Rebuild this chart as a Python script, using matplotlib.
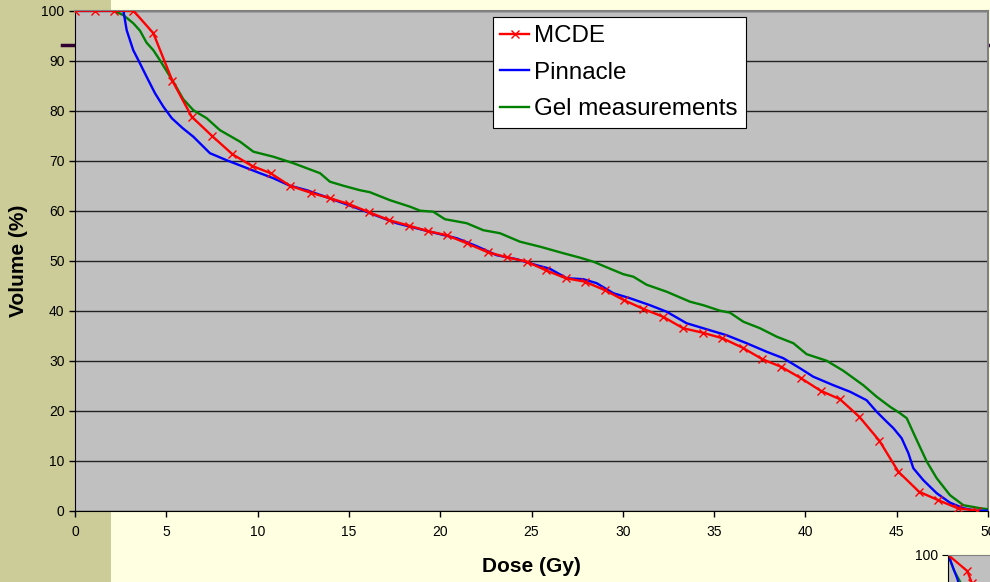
import matplotlib.pyplot as plt
from matplotlib.patches import Rectangle
from matplotlib.lines import Line2D

plt.rcParams['font.family'] = ['Liberation Sans', 'DejaVu Sans']

# MCDE (red, with markers)
red_x = [0, 1.07, 2.13, 3.2, 4.29, 5.33, 6.39, 7.52, 8.62, 9.67, 10.71, 11.77, 12.9, 13.96,
         15.02, 16.1, 17.21, 18.29, 19.35, 20.35, 21.45, 22.6, 23.64, 24.74, 25.78, 26.87,
         27.93, 29.02, 30.07, 31.1, 32.2, 33.3, 34.37, 35.45, 36.56, 37.64, 38.66, 39.76,
         40.83, 41.89, 42.95, 44.05, 45.09, 46.22, 47.28, 48.34, 49.41]
red_y = [100, 100, 100, 100, 95.5, 86, 78.8, 74.9, 71.3, 69.0, 67.5, 65.0, 63.6, 62.5,
         61.3, 59.7, 58.1, 57.0, 55.9, 55.1, 53.5, 51.7, 50.7, 49.8, 48.1, 46.5,
         45.8, 44.1, 42.1, 40.4, 38.8, 36.5, 35.6, 34.5, 32.6, 30.3, 28.8, 26.5,
         24.0, 22.3, 18.8, 14.0, 7.8, 3.8, 2.1, 0.5, 0]

# Pinnacle (blue)
blue_x = [0, 2.0, 2.65, 2.83, 3.19, 3.47, 3.92, 4.38, 4.84, 5.3, 5.9, 6.48, 7.39, 8.3, 9.22,
          10.13, 10.86, 11.77, 12.69, 13.78, 14.69, 15.6, 16.15, 17.61, 19.44, 20.9, 22.0,
          23.09, 24.19, 25.28, 26.0, 26.93, 27.84, 28.57, 29.48, 30.39, 31.49, 32.4, 33.49,
          34.58, 35.68, 36.78, 37.87, 38.79, 39.7, 40.43, 41.53, 42.44, 43.35, 43.9, 44.45,
          44.82, 45.27, 45.64, 45.91, 46.46, 47.19, 47.92, 48.65, 49.38, 50]
blue_y = [100, 100, 100, 96.1, 92.1, 90.1, 86.8, 83.5, 80.8, 78.5, 76.5, 74.8, 71.5, 70.1, 68.8,
          67.5, 66.5, 65.0, 64.1, 62.7, 61.5, 60.3, 59.5, 57.5, 55.8, 54.5, 52.9,
          51.1, 50.3, 49.1, 48.4, 46.5, 46.3, 45.5, 43.5, 42.5, 41.1, 39.8, 37.5,
          36.3, 35.1, 33.5, 31.8, 30.5, 28.5, 26.8, 25.1, 23.8, 22.1, 19.8, 17.8,
          16.5, 14.5, 11.5, 8.5, 6.1, 3.5, 1.6, 0.5, 0, 0]

# Gel measurements (green)
green_x = [0, 2.13, 2.65, 3.19, 3.56, 3.92, 4.29, 4.65, 5.38, 5.93, 6.48, 7.21, 7.94, 9.04,
           9.77, 10.86, 11.96, 13.42, 13.96, 14.69, 15.6, 16.15, 17.25, 18.35, 18.9, 19.62,
           20.26, 21.45, 22.36, 23.27, 24.37, 25.47, 26.74, 27.66, 28.39, 29.3, 30.03, 30.58,
           31.3, 32.4, 33.68, 34.41, 35.32, 35.87, 36.6, 37.51, 38.43, 39.34, 40.07, 41.16,
           42.07, 43.17, 43.9, 44.63, 45.18, 45.55, 46.1, 46.65, 47.19, 47.92, 48.65, 49.56, 50]
green_y = [100, 100, 99.1, 97.5, 96.0, 93.6, 92.1, 90.1, 85.8, 82.3, 80.1, 78.5, 76.1, 73.8,
           71.8, 70.8, 69.5, 67.5, 65.8, 65.0, 64.1, 63.7, 62.1, 60.8, 60.0, 59.8,
           58.3, 57.5, 56.1, 55.5, 53.8, 52.8, 51.5, 50.6, 49.8, 48.4, 47.3, 46.8,
           45.2, 43.8, 41.8, 41.1, 40.0, 39.6, 37.8, 36.5, 34.8, 33.5, 31.3, 30.0,
           28.0, 25.1, 22.8, 20.8, 19.5, 18.5, 14.1, 9.8, 6.5, 3.1, 1.1, 0.5, 0.3]

# second chart peeking in at the bottom right corner
inset_red_x = [0, 1.04, 1.3, 1.5]
inset_red_y = [100, 96.8, 94.4, 91]
inset_blue_x = [0, 0.25, 0.5, 0.75]
inset_blue_y = [100, 97.6, 95.2, 92]
inset_green_x = [0, 0.3, 0.66, 0.8]
inset_green_y = [100, 97, 94.6, 92]

W, H = 990, 582
fig = plt.figure(figsize=(9.9, 5.82), dpi=100, facecolor='#FFFFE1')

# khaki strip on the left and the dark slide line
fig.add_artist(Rectangle((0, 0), 110.7 / W, 1, transform=fig.transFigure,
                         facecolor='#CCCC99', edgecolor='none', zorder=-3))
fig.add_artist(Line2D([62 / W, 1], [1 - 45 / H] * 2, transform=fig.transFigure,
                      color='#330033', lw=2.5, zorder=-2))

ax = fig.add_axes([75 / W, (H - 510.7) / H, 913 / W, 500 / H])
ax.set_facecolor('#C0C0C0')
ax.plot(red_x, red_y, color='red', lw=1.7, marker='x', ms=6, mew=1, label='MCDE', zorder=5)
ax.plot(blue_x, blue_y, color='blue', lw=1.7, label='Pinnacle', zorder=4)
ax.plot(green_x, green_y, color='green', lw=1.7, label='Gel measurements', zorder=3)

ax.set_xlim(0, 50)
ax.set_ylim(0, 100)
ax.set_xticks(range(0, 51, 5))
ax.set_yticks(range(0, 101, 10))
ax.grid(axis='y', color='#222222', lw=1)
ax.set_axisbelow(True)
ax.tick_params(direction='out', length=4, width=1, labelsize=10, color='black')
ax.tick_params(axis='x', pad=6)
for side in ['left', 'bottom']:
    ax.spines[side].set_color('black')
for side in ['top', 'right']:
    ax.spines[side].set_color('#808080')
    ax.spines[side].set_linewidth(1.5)

ax.set_xlabel('Dose (Gy)', fontsize=15, fontweight='bold', labelpad=13)
ax.set_ylabel('Volume (%)', fontsize=15, fontweight='bold', labelpad=10)

leg = ax.legend(loc='upper left', bbox_to_anchor=(492.7 / W, 1 - 17.3 / H),
                bbox_transform=fig.transFigure, fontsize=17.4, handlelength=1.2,
                handletextpad=0.2, borderpad=0.32, labelspacing=0.6, borderaxespad=0,
                fancybox=False, framealpha=1, edgecolor='black')
leg.get_frame().set_linewidth(0.8)

# partly visible second chart
ax2 = fig.add_axes([948.3 / W, (H - 600) / H, 60 / W, 45 / H])
ax2.set_facecolor('#C0C0C0')
ax2.plot(inset_green_x, inset_green_y, color='green', lw=1.6)
ax2.plot(inset_blue_x, inset_blue_y, color='blue', lw=1.6)
ax2.plot(inset_red_x, inset_red_y, color='red', lw=1.6, marker='x', ms=6, mew=1)
ax2.set_xlim(0, 3.3)
ax2.set_ylim(91, 100)
ax2.set_xticks([])
ax2.set_yticks([100])
ax2.tick_params(direction='out', length=4, labelsize=10)
ax2.spines['top'].set_color('#808080')
ax2.spines['right'].set_visible(False)

fig.savefig('out.png', dpi=100, facecolor=fig.get_facecolor())
